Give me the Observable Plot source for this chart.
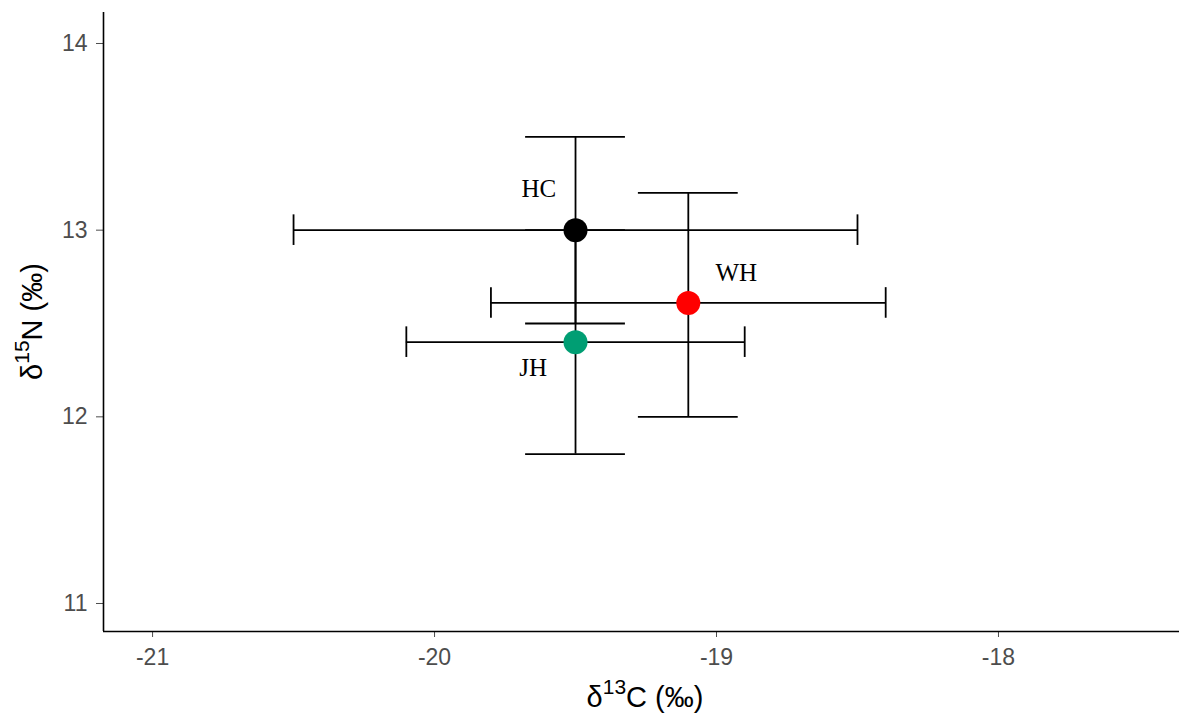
<!DOCTYPE html>
<html><head>
<meta charset="utf-8">
<script src="https://cdn.jsdelivr.net/npm/d3@7"></script>
<script src="https://cdn.jsdelivr.net/npm/@observablehq/plot@0.6"></script>
<style>body{margin:0;background:#fff}</style>
</head><body><div id="chart"></div>
<script>
const sites = ["HC", "WH", "JH"];
const d13C = [-19.5, -19.1, -19.5];
const d13C_lo = [-20.5, -19.8, -20.1];
const d13C_hi = [-18.5, -18.4, -18.9];
const d15N = [13.0, 12.61, 12.4];
const d15N_lo = [12.5, 12.0, 11.8];
const d15N_hi = [13.5, 13.2, 13.0];
const labelX = [-19.63, -18.93, -19.65];
const labelY = [13.22, 12.77, 12.26];
const colors = ["#000000", "#FF0000", "#009E73"];
const xTicks = [-21, -20, -19, -18];
const yTicks = [11, 12, 13, 14];

const xDomain = [-21.174, -17.358];
const yDomain = [10.85, 14.166];
const capX = 0.177;  // half-width of vertical-bar caps (x units)
const capY = 0.082;  // half-height of horizontal-bar caps (y units)

const data = sites.map((s, i) => ({
  site: s, x: d13C[i], xlo: d13C_lo[i], xhi: d13C_hi[i],
  y: d15N[i], ylo: d15N_lo[i], yhi: d15N_hi[i],
  lx: labelX[i], ly: labelY[i], color: colors[i]
}));

const tickColor = "#4d4d4d";
const sans = "'Liberation Sans', Arial, sans-serif";
const chart = Plot.plot({
  width: 1179, height: 717,
  marginLeft: 103, marginRight: 0, marginTop: 12, marginBottom: 86,
  style: {background: "#fff", fontFamily: sans, fontSize: "22px"},
  x: {domain: xDomain},
  y: {domain: yDomain},
  marks: [
    Plot.axisX({ticks: xTicks, tickSize: 6, tickPadding: 11, fontSize: 22, color: tickColor, label: null, tickFormat: d => d < 0 ? "-" + Math.abs(d) : String(d)}),
    Plot.axisY({ticks: yTicks, tickSize: 7, tickPadding: 9, fontSize: 22, color: tickColor, label: null, tickFormat: d => String(d)}),
    Plot.ruleX([xDomain[0]], {stroke: "#000", strokeWidth: 1.6}),
    Plot.ruleY([yDomain[0]], {stroke: "#000", strokeWidth: 1.6}),
    // vertical error bars
    Plot.ruleX(data, {x: "x", y1: "ylo", y2: "yhi", stroke: "#000", strokeWidth: 1.8}),
    Plot.ruleY(data, {y: "yhi", x1: d => d.x - capX, x2: d => d.x + capX, stroke: "#000", strokeWidth: 1.8}),
    Plot.ruleY(data, {y: "ylo", x1: d => d.x - capX, x2: d => d.x + capX, stroke: "#000", strokeWidth: 1.8}),
    // horizontal error bars
    Plot.ruleY(data, {y: "y", x1: "xlo", x2: "xhi", stroke: "#000", strokeWidth: 1.8}),
    Plot.ruleX(data, {x: "xlo", y1: d => d.y - capY, y2: d => d.y + capY, stroke: "#000", strokeWidth: 1.8}),
    Plot.ruleX(data, {x: "xhi", y1: d => d.y - capY, y2: d => d.y + capY, stroke: "#000", strokeWidth: 1.8}),
    Plot.dot(data, {x: "x", y: "y", r: 12, fill: "color", stroke: null}),
    Plot.text(data, {x: "lx", y: "ly", text: "site", fontSize: 25, fontFamily: "'Liberation Serif', 'Times New Roman', serif", fill: "#000"})
  ]
});
document.getElementById("chart").appendChild(chart);

const svg = d3.select(chart);
svg.selectAll("g").filter(function () {
  return (this.getAttribute("aria-label") || "").includes("axis");
}).selectAll("text").style("font-size", "23px").style("font-family", sans);

const xt = svg.append("text")
  .attr("x", 645).attr("y", 707)
  .attr("text-anchor", "middle").attr("font-size", 29).attr("fill", "#000")
  .attr("font-family", sans);
xt.append("tspan").text("δ");
xt.append("tspan").attr("font-size", 21).attr("dy", -13).text("13");
xt.append("tspan").attr("dy", 13).text("C (‰)");

const yt = svg.append("text")
  .attr("transform", `translate(42,${(12 + 631) / 2}) rotate(-90)`)
  .attr("text-anchor", "middle").attr("font-size", 29).attr("fill", "#000")
  .attr("font-family", sans);
yt.append("tspan").text("δ");
yt.append("tspan").attr("font-size", 21).attr("dy", -13).text("15");
yt.append("tspan").attr("dy", 13).text("N (‰)");
</script>
</body></html>
